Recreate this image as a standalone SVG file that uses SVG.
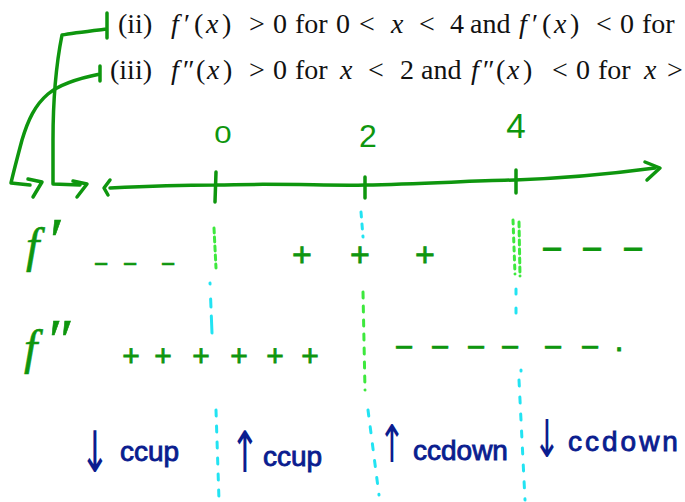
<svg xmlns="http://www.w3.org/2000/svg" width="685" height="502" viewBox="0 0 685 502">
<style>
.math{font-family:"Liberation Serif","Times New Roman",serif;font-size:28px;fill:#111}
.it{font-style:italic}
.g{fill:none;stroke:#0e960e;stroke-width:3.5;stroke-linecap:round;stroke-linejoin:round}
.hand{font-family:"Liberation Sans",Arial,sans-serif;fill:#0e960e}
.lbl{font-family:"Liberation Serif",serif;font-style:italic;fill:#0e960e;stroke:#0e960e;stroke-width:0.6}
.sign{font-family:"Liberation Sans",Arial,sans-serif;fill:#0e960e;stroke:#0e960e;stroke-width:0.8;text-anchor:middle}
.lg{fill:none;stroke:#3de83d;stroke-width:3;stroke-linecap:round}
.cy{fill:none;stroke:#22e3f2;stroke-width:3;stroke-linecap:round}
.blue{font-family:"Liberation Sans",Arial,sans-serif;fill:#0b1d8f;stroke:#0b1d8f;stroke-width:0.9}
.arr{font-family:"DejaVu Sans",sans-serif;fill:#0b1d8f;text-anchor:middle}
</style>

<g id="statements">
<text class="math" y="33"><tspan x="118">(ii)</tspan><tspan x="171" class="it">f</tspan><tspan x="184">′</tspan><tspan x="194">(</tspan><tspan x="206" class="it">x</tspan><tspan x="222">)</tspan><tspan x="249">&gt;</tspan><tspan x="273">0</tspan><tspan x="295">for</tspan><tspan x="336">0</tspan><tspan x="359">&lt;</tspan><tspan x="391" class="it">x</tspan><tspan x="419">&lt;</tspan><tspan x="450">4</tspan><tspan x="470">and</tspan><tspan x="519" class="it">f</tspan><tspan x="532">′</tspan><tspan x="542">(</tspan><tspan x="554" class="it">x</tspan><tspan x="570">)</tspan><tspan x="596">&lt;</tspan><tspan x="620">0</tspan><tspan x="642">for</tspan></text>
<text class="math" y="79"><tspan x="110">(iii)</tspan><tspan x="171" class="it">f</tspan><tspan x="183">″</tspan><tspan x="196">(</tspan><tspan x="207" class="it">x</tspan><tspan x="223">)</tspan><tspan x="249">&gt;</tspan><tspan x="273">0</tspan><tspan x="295">for</tspan><tspan x="340" class="it">x</tspan><tspan x="368">&lt;</tspan><tspan x="400">2</tspan><tspan x="421">and</tspan><tspan x="471" class="it">f</tspan><tspan x="483">″</tspan><tspan x="496">(</tspan><tspan x="507" class="it">x</tspan><tspan x="523">)</tspan><tspan x="552">&lt;</tspan><tspan x="576">0</tspan><tspan x="598">for</tspan><tspan x="644" class="it">x</tspan><tspan x="667">&gt;</tspan></text>
</g>

<g id="connectors">
<path class="g" d="M107,13 L107,38 M107,29 C90,31 72,33 62,35 C57,60 53,100 53,140 L53,184 L80,185 M73,181 L87,184 L77,197"/>
<path class="g" d="M100,66 L100,81 M100,74 C80,78 60,84 48,94 C35,105 28,120 22,140 C18,155 14,170 11,183 L30,185 M28,179 L42,182 L33,197"/>
</g>

<g id="axis">
<path class="g" d="M110,188 C150,186 180,185 215,185 C280,183 330,186 365,185 C420,184 470,181 515,180 C570,178 610,174 655,168"/>
<path class="g" d="M110,180 L104,188 L108,195"/>
<path class="g" d="M645,162 L660,168 L647,180"/>
<path class="g" d="M216,172 L215,202 M365,177 L365,198 M516,170 L516,193"/>
<text class="hand" x="223" y="143" font-size="24" text-anchor="middle" transform="translate(223,0) scale(1.3,1) translate(-223,0)">0</text>
<text class="hand" x="368" y="147" font-size="32" text-anchor="middle">2</text>
<text class="hand" x="516" y="138" font-size="35" text-anchor="middle">4</text>
</g>

<g id="dividers">
<path class="lg" d="M214,228 L216,268" stroke-dasharray="5 4"/>
<path class="cy" d="M210,283 L212,333" stroke-dasharray="1 15 8 9 20 0"/>
<path class="cy" d="M216,410 L219,500" stroke-dasharray="6 10"/>
<path class="cy" d="M361,212 L363,237" stroke-dasharray="5 7"/>
<path class="lg" d="M363,292 L365,390" stroke-dasharray="6 8"/>
<path class="cy" d="M368,410 L379,495" stroke-dasharray="6 11"/>
<path class="lg" d="M513,220 L515,274" stroke-dasharray="4 5"/>
<path class="lg" d="M519,222 L520,276" stroke-dasharray="5 4"/>
<path class="cy" d="M516,289 L516,320" stroke-dasharray="5 14"/>
<path class="cy" d="M521,370 L521,371"/>
<path class="cy" d="M519,380 L525,500" stroke-dasharray="6 11"/>
</g>

<g id="fprime-row">
<text class="lbl" x="26" y="262" font-size="48">f</text>
<text class="lbl" x="46" y="262" font-size="64">′</text>
<text class="sign" font-size="24" y="272"><tspan x="101">−</tspan><tspan x="130">−</tspan><tspan x="168">−</tspan></text>
<text class="sign" font-size="34" y="266"><tspan x="302">+</tspan><tspan x="360">+</tspan><tspan x="425">+</tspan></text>
<text class="sign" font-size="36" y="261"><tspan x="552">−</tspan><tspan x="592">−</tspan><tspan x="633">−</tspan></text>
</g>

<g id="fsecond-row">
<text class="lbl" x="24" y="364" font-size="48">f</text>
<text class="lbl" x="45" y="360" font-size="60">″</text>
<text class="sign" font-size="30" y="366"><tspan x="131">+</tspan><tspan x="163">+</tspan><tspan x="201">+</tspan><tspan x="239">+</tspan><tspan x="275">+</tspan><tspan x="310">+</tspan></text>
<text class="sign" font-size="32" y="358"><tspan x="404">−</tspan><tspan x="440">−</tspan><tspan x="476">−</tspan><tspan x="510">−</tspan><tspan x="553">−</tspan><tspan x="590">−</tspan><tspan x="619">·</tspan></text>
</g>

<g id="conclusions">
<text class="arr" font-size="44" transform="translate(95,472) scale(0.8,1.3)">↓</text>
<text class="blue" x="120" y="461" font-size="28">ccup</text>
<text class="arr" font-size="44" transform="translate(245,472) scale(0.8,1.3)">↑</text>
<text class="blue" x="263" y="466" font-size="28">ccup</text>
<text class="arr" font-size="40" transform="translate(392,462) scale(0.8,1.3)">↑</text>
<text class="blue" x="413" y="460" font-size="28">ccdown</text>
<text class="arr" font-size="40" transform="translate(547,457) scale(0.8,1.3)">↓</text>
<text class="blue" x="568" y="451" font-size="28" letter-spacing="3">ccdown</text>
</g>
</svg>
